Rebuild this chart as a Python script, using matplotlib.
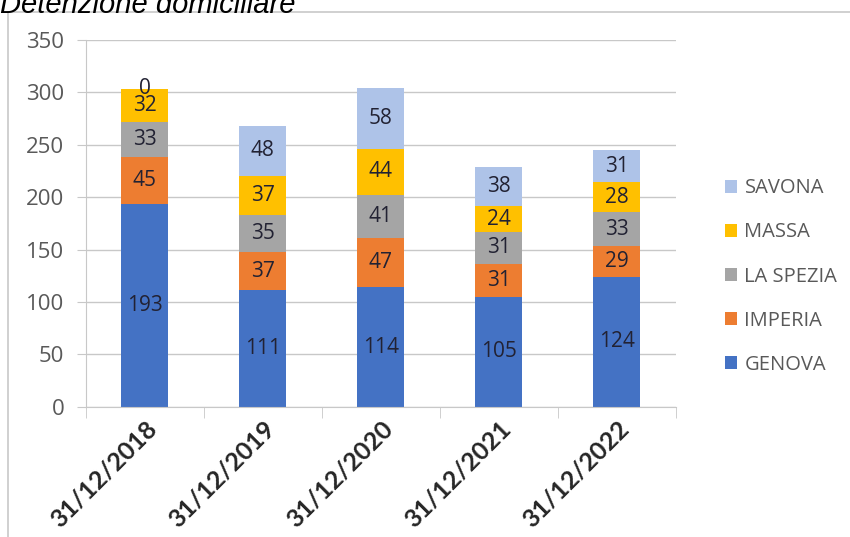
import numpy as np
import matplotlib.pyplot as plt
from matplotlib.patches import Rectangle

# data
dates = ['31/12/2018', '31/12/2019', '31/12/2020', '31/12/2021', '31/12/2022']
genova = [193, 111, 114, 105, 124]
imperia = [45, 37, 47, 31, 29]
la_spezia = [33, 35, 41, 31, 33]
massa = [32, 37, 44, 24, 28]
savona = [0, 48, 58, 38, 31]

series = ['GENOVA', 'IMPERIA', 'LA SPEZIA', 'MASSA', 'SAVONA']
values = [genova, imperia, la_spezia, massa, savona]
colors = ['#4472C4', '#ED7D31', '#A5A5A5', '#FFC000', '#AEC3E8']

plt.rcParams['font.family'] = ['Open Sans', 'DejaVu Sans']

fig = plt.figure(figsize=(8.5, 5.37), dpi=100)
ax = fig.add_axes([0.101, 0.2421, 0.694, 0.6843])

x = np.arange(len(dates))
bottom = np.zeros(len(dates))
handles = []
for name, vals, col in zip(series, values, colors):
    vals = np.array(vals, dtype=float)
    b = ax.bar(x, vals, width=0.4, bottom=bottom, color=col, label=name, zorder=2)
    handles.append(b)
    for xi, v, bt in zip(x, vals, bottom):
        ax.text(xi, bt + v / 2, str(int(v)), ha='center', va='center',
                fontsize=15, color='#222233', zorder=3)
    bottom += vals

ax.set_xlim(-0.5, len(dates) - 0.5)
ax.set_ylim(0, 350)
ax.set_yticks(range(0, 351, 50))
ax.yaxis.grid(True, color='#c8c8c8', linewidth=1, zorder=0)
ax.set_axisbelow(True)

for s in ['top', 'right']:
    ax.spines[s].set_visible(False)
ax.spines['left'].set_color('#c8c8c8')
ax.spines['bottom'].set_color('#c8c8c8')
ax.tick_params(axis='y', length=6.5, color='#c8c8c8', labelsize=16, labelcolor='#595959', pad=9)

# category boundary ticks on x axis
ax.set_xticks(x)
ax.set_xticklabels(dates, rotation=45, ha='right', rotation_mode='anchor',
                   fontsize=18, fontweight='bold', color='#262626',
                   family=['Lato', 'DejaVu Sans'])
ax.tick_params(axis='x', length=0, pad=7)
ax.set_xticks(np.arange(-0.5, len(dates), 1), minor=True)
ax.tick_params(axis='x', which='minor', length=8, color='#c8c8c8')

leg = fig.legend(handles[::-1], series[::-1], loc='center left',
                 bbox_to_anchor=(0.832, 0.485), frameon=False, fontsize=14.5,
                 handlelength=0.6, handleheight=0.6, handletextpad=0.35,
                 labelspacing=1.2, labelcolor='#595959')

# outer chart frame
fig.add_artist(Rectangle((8 / 850, -0.01), 1.0, 1 - 12 / 537 + 0.01,
                         transform=fig.transFigure, fill=False,
                         edgecolor='#c8c8c8', linewidth=1.2))

fig.text(0.0, 1 - 13 / 537, 'Detenzione domiciliare', fontsize=21,
         style='italic', family='Liberation Sans', va='baseline', ha='left')

fig.savefig('out.png', dpi=100)
